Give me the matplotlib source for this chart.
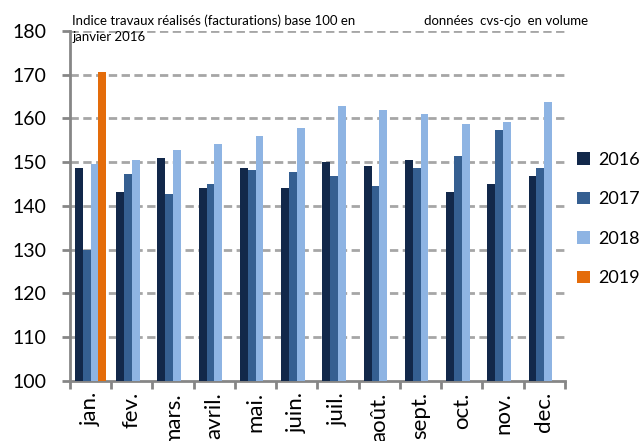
import numpy as np
import matplotlib
matplotlib.use('Agg')
import matplotlib.pyplot as plt

plt.rcParams['font.family'] = ['Lato', 'DejaVu Sans']

months = ['jan.', 'fev.', 'mars.', 'avril.', 'mai.', 'juin.', 'juil.',
          'août.', 'sept.', 'oct.', 'nov.', 'dec.']
years = ['2016', '2017', '2018', '2019']

v2016 = [148.7, 143.2, 151.0, 144.1, 148.7, 144.1, 150.1, 149.1, 150.5, 143.2, 145.0, 146.9]
v2017 = [129.9, 147.3, 142.7, 145.0, 148.2, 147.8, 146.9, 144.6, 148.7, 151.4, 157.4, 148.7]
v2018 = [149.6, 150.5, 152.8, 154.2, 156.0, 157.8, 162.9, 161.9, 161.0, 158.7, 159.2, 163.8]
v2019 = [170.6]

colors = ['#12284A', '#355F91', '#8EB4E3', '#E46C0A']

fig = plt.figure(figsize=(6.42, 4.41), dpi=100)
ax = fig.add_axes([0.109, 0.136, 0.771, 0.794])

w = 0.19
series = [v2016, v2017, v2018, v2019]
x = np.arange(len(months))
for k, vals in enumerate(series):
    xs = x[:len(vals)] + (k - 1.5) * w
    ax.bar(xs, np.array(vals) - 100, width=w, bottom=100, color=colors[k],
           label=years[k], zorder=3)

ax.set_ylim(100, 180)
ax.set_xlim(-0.5, 11.5)
ax.set_yticks(np.arange(100, 181, 10))
for yv in range(110, 181, 10):
    ax.axhline(yv, color='#A6A6A6', lw=2, ls=(0, (3, 1.6)), zorder=1)

# month boundaries as ticks, names in between
ax.set_xticks(np.arange(-0.5, 12, 1))
ax.set_xticklabels([])
ax.set_xticks(x, minor=True)
ax.set_xticklabels(months, minor=True, rotation=90, fontsize=16)
ax.tick_params(axis='x', which='minor', length=0, pad=8)
ax.tick_params(axis='x', which='major', length=6, width=2, color='#868686')
ax.tick_params(axis='y', length=6, width=2, color='#868686', labelsize=14, pad=11)

for s in ['top', 'right']:
    ax.spines[s].set_visible(False)
for s in ['left', 'bottom']:
    ax.spines[s].set_color('#868686')
    ax.spines[s].set_linewidth(2)

fig.legend(loc='upper left', bbox_to_anchor=(577 / 642, 1 - 152 / 441), frameon=False,
           fontsize=13, handlelength=0.7, handleheight=0.7, borderpad=0,
           borderaxespad=0, handletextpad=0.45, labelspacing=1.3)

fig.text(72 / 642, 1 - 14 / 441, 'Indice travaux réalisés (facturations) base 100 en\njanvier 2016',
         fontsize=9.5, va='top', ha='left', linespacing=1.45)
fig.text(424 / 642, 1 - 21 / 441, 'données  cvs-cjo  en volume', fontsize=9.5,
         va='center', ha='left')

fig.savefig('out.png', dpi=100)
